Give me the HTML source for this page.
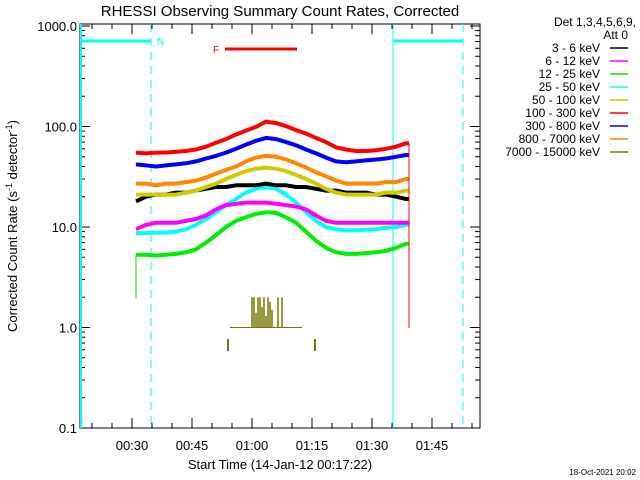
<!DOCTYPE html>
<html><head><meta charset="utf-8"><style>
html,body{margin:0;padding:0;background:#fff;}
svg{display:block;font-family:"Liberation Sans",sans-serif;}
</style></head><body>
<svg id="chart" width="640" height="480" viewBox="0 0 640 480">
<text x="280" y="16" text-anchor="middle" font-size="15">RHESSI Observing Summary Count Rates, Corrected</text>
<text x="17" y="226" transform="rotate(-90 17 226)" text-anchor="middle" font-size="13">Corrected Count Rate (s<tspan dy="-5" font-size="9">-1</tspan><tspan dy="5"> detector</tspan><tspan dy="-5" font-size="9">-1</tspan><tspan dy="5">)</tspan></text>
<text x="280" y="469" text-anchor="middle" font-size="13">Start Time (14-Jan-12 00:17:22)</text>
<text x="636" y="475" text-anchor="end" font-size="8">18-Oct-2021 20:02</text>
<g id="axes"></g>
<g id="series"></g>
<g id="legend"></g>
</svg>
<script>
const times=[31,33.5,36,38.5,41,43.5,46,48.5,51,53.5,56,58.5,61,63.5,66,68.5,71,73.5,76,78.5,81,83.5,86,88.5,91,93.5,96,98.5];
const s3_6=[18,20,21,21,22,22,23,24,25,25,26,26,26,27,26,26,25,25,24,23,23,22,22,22,21,21,20,19];
const s6_12=[9.5,10.5,11,11,11,11.5,12,13,15,16.5,17,17.5,17.5,17.5,17,16.5,16,15,13,11.5,11,11,11,11,11,11,11,11];
const s12_25=[5.3,5.3,5.2,5.3,5.4,5.6,6,7,8.3,10,11.5,12.5,13.5,14,13.8,12.5,11,9,7.3,6.2,5.6,5.4,5.4,5.5,5.6,5.8,6.2,6.8];
const s25_50=[8.7,8.7,8.8,8.8,9,9.5,10.5,12,14,16.5,19,22,24,25,24,21,17.5,14,11.5,10,9.5,9.3,9.3,9.4,9.5,9.8,10,10.5];
const s50_100=[21,21,21,21,21,22,23,25,27,30,33,36,38,39,38,36,33,30,27,24,22,21,21,21,21,22,22,23];
const s100_300=[55,54,55,55,56,57,59,63,69,75,83,91,99,112,108,101,92,85,77,70,62,59,57,57,58,60,63,68];
const s300_800=[42,41,40,41,42,43,45,48,51,55,60,66,72,77,75,70,65,59,54,49,45,44,45,46,47,48,50,52];
const s800_7000=[27,27,26,27,27,28,29,31,34,37,40,45,49,51,50,47,43,39,35,32,29,27,27,27,27,28,28,30];
const spikeTimes=[60,60.5,61,61.5,62,62.5,63,63.5,64,64.5,65,66.5,67.5];
const spikeVals=[2.0,2.0,1.4,2.0,2.0,1.6,2.0,1.3,2.0,1.8,1.5,2.0,2.0];
const legendLabels=["3 - 6 keV","6 - 12 keV","12 - 25 keV","25 - 50 keV","50 - 100 keV","100 - 300 keV","300 - 800 keV","800 - 7000 keV","7000 - 15000 keV"];
const legendColors=["#000","#f0f","#0e0","#0ff","#cc0","#f00","#00f","#f80","#770"];
const yTickVals=[0.1,1,10,100,1000];
const yTickLabels=["0.1","1.0","10.0","100.0","1000.0"];
const xTickMins=[30,45,60,75,90,105];
const xTickLabels=["00:30","00:45","01:00","01:15","01:30","01:45"];

const NS="http://www.w3.org/2000/svg";
const L=80,R=480,T=24,B=428;
function X(t){return 132+(t-30)*4;}
function Y(v){return 428-100.5*(Math.log10(v)+1);}
function mk(tag,attrs,parent){const e=document.createElementNS(NS,tag);for(const k in attrs)e.setAttribute(k,attrs[k]);parent.appendChild(e);return e;}
const axes=document.getElementById('axes');
let f=mk('rect',{x:L,y:T,width:R-L,height:B-T,fill:'none',stroke:'#000','stroke-width':1},axes);


// y ticks
yTickVals.forEach((v,i)=>{
  const y=Y(v);
  let t=mk('text',{x:77,y:y+5,'text-anchor':'end','font-size':13},axes);t.textContent=yTickLabels[i];
  
  
  mk('line',{x1:L,x2:L+10,y1:y,y2:y,stroke:'#000'},axes);
  mk('line',{x1:R,x2:R-10,y1:y,y2:y,stroke:'#000'},axes);
  if(v<1000)for(let m=2;m<10;m++){const ym=Y(v*m);
    mk('line',{x1:L,x2:L+5,y1:ym,y2:ym,stroke:'#000'},axes);
    mk('line',{x1:R,x2:R-5,y1:ym,y2:ym,stroke:'#000'},axes);}
});
for(let t=20;t<=115;t+=5){const x=X(t);if(x<=L||x>=R)continue;const maj=(t%15===0);const h=maj?10:5;
  mk('line',{x1:x,x2:x,y1:B,y2:B-h,stroke:'#000'},axes);mk('line',{x1:x,x2:x,y1:T,y2:T+h,stroke:'#000'},axes);}
xTickMins.forEach((m,i)=>{let t=mk('text',{x:X(m),y:450,'text-anchor':'middle','font-size':13},axes);t.textContent=xTickLabels[i];
  
  });
// night/flare markers
mk('line',{x1:81,x2:81,y1:T,y2:B,stroke:'#0ff','stroke-width':2},axes);
mk('line',{x1:393,x2:393,y1:T,y2:B,stroke:'#0ff','stroke-width':1},axes);
mk('line',{x1:151,x2:151,y1:T,y2:B,stroke:'#0ff','stroke-dasharray':'8,6'},axes);
mk('line',{x1:463,x2:463,y1:T,y2:B,stroke:'#0ff','stroke-dasharray':'8,6'},axes);
mk('line',{x1:81,x2:151,y1:41,y2:41,stroke:'#0ff','stroke-width':3},axes);
mk('line',{x1:393,x2:463,y1:41,y2:41,stroke:'#0ff','stroke-width':3},axes);
let n=mk('text',{x:157,y:45,'font-size':10,fill:'#0ff'},axes);n.textContent='N';


mk('line',{x1:225,x2:297,y1:49,y2:49,stroke:'#f00','stroke-width':3},axes);
let fl=mk('text',{x:213,y:53,'font-size':10,fill:'#f00'},axes);fl.textContent='F';


// series
const sg=document.getElementById('series');
const order=[[s12_25,2],[s25_50,3],[s6_12,1],[s3_6,0],[s50_100,4],[s800_7000,7],[s300_800,6],[s100_300,5]];
order.forEach(([arr,ci])=>{
  let d='';arr.forEach((v,i)=>{const x=X(times[i]),y=Y(v);d+=(i?'L':'M')+x.toFixed(1)+' '+y.toFixed(1);});
  d+='L'+X(99.25).toFixed(1)+' '+Y(arr[arr.length-1]).toFixed(1);
  const p=mk('path',{d:d,fill:'none',stroke:legendColors[ci],'stroke-width':4,'stroke-linejoin':'round'},sg);
  
  
});
mk('line',{x1:X(31),x2:X(31),y1:Y(s12_25[0]),y2:298,stroke:'#0e0'},sg);
mk('line',{x1:X(99.25),x2:X(99.25),y1:Y(s100_300[27]),y2:328,stroke:'#f00'},sg);
// 7000-15000 keV
const ol='#770';
mk('line',{x1:X(54.5),x2:X(72.5),y1:Y(1),y2:Y(1),stroke:ol},sg);
spikeTimes.forEach((t,i)=>{const s=mk('line',{x1:X(t),x2:X(t),y1:Y(1),y2:Y(spikeVals[i]),stroke:ol,'stroke-width':1.5},sg);
  
  });
mk('line',{x1:228,x2:228,y1:339,y2:351,stroke:ol,'stroke-width':2},sg);
mk('line',{x1:315,x2:315,y1:339,y2:351,stroke:ol,'stroke-width':2},sg);
// legend
const lg=document.getElementById('legend');
let h1=mk('text',{x:636,y:26,'text-anchor':'end','font-size':12},lg);h1.textContent='Det 1,3,4,5,6,9,';


let h2=mk('text',{x:628,y:39,'text-anchor':'end','font-size':12},lg);h2.textContent='Att 0';


legendLabels.forEach((lab,i)=>{const y=48+i*13;
  const t=mk('text',{x:600,y:y+4,'text-anchor':'end','font-size':12},lg);t.textContent=lab;
  
  
  mk('line',{x1:610,x2:628,y1:y,y2:y,stroke:legendColors[i],'stroke-width':1.5},lg);});
</script>
</body></html>
